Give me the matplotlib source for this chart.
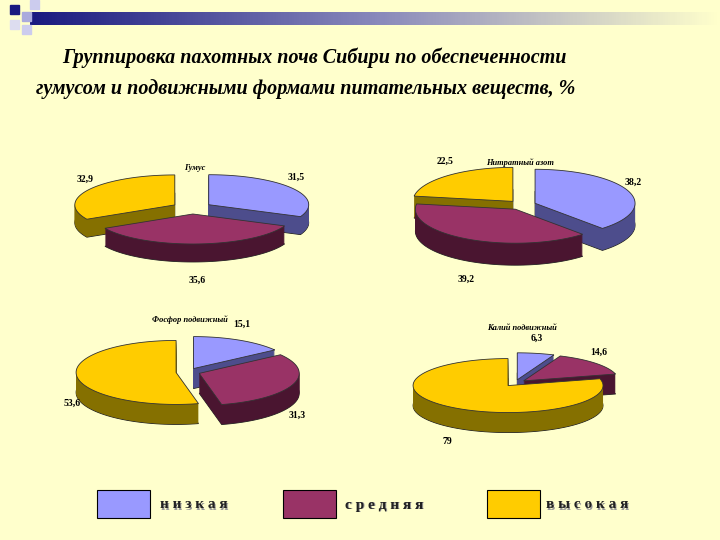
import numpy as np
import matplotlib
matplotlib.use("Agg")
import matplotlib.pyplot as plt
from matplotlib.patches import Polygon, Rectangle
from matplotlib.colors import LinearSegmentedColormap

titles = ["Гумус", "Нитратный азот", "Фосфор подвижный", "Калий подвижный"]
humus = [31.5, 35.6, 32.9]
nitrate = [38.2, 39.2, 22.5]
phosphorus = [15.1, 31.3, 53.6]
potassium = [6.3, 14.6, 79.0]
value_labels = [["31,5", "35,6", "32,9"], ["38,2", "39,2", "22,5"],
                 ["15,1", "31,3", "53,6"], ["6,3", "14,6", "79"]]
categories = ["н и з к а я", "с р е д н я я", "в ы с о к а я"]

top_colors = ["#9999FF", "#993366", "#FFCC00"]
side_colors = ["#4D4D8C", "#4A1530", "#857000"]

fig = plt.figure(figsize=(7.2, 5.4), dpi=100)
fig.patch.set_facecolor("#FFFFCC")
ax = fig.add_axes([0, 0, 1, 1])
ax.set_xlim(0, 720); ax.set_ylim(540, 0); ax.axis("off")
ax.set_facecolor("#FFFFCC")

grad = np.linspace(0, 1, 300)[None, :]
cm = LinearSegmentedColormap.from_list("g", ["#1A1A80", "#8888BB", "#FFFFCC"])
ax.imshow(grad, extent=(30, 720, 25, 12), cmap=cm, aspect="auto", zorder=1)
for (x, y, c) in [(10, 5, "#1A1A80"), (22, 12, "#AAAADD"), (30, 0, "#CCCCEE"), (22, 25, "#CCCCEE"), (10, 20, "#DDDDF0")]:
    ax.add_patch(Rectangle((x, y), 9, 9, color=c, zorder=2))
ax.text(62, 58, "Группировка пахотных почв Сибири по обеспеченности", ha="left", va="center",
        fontsize=14.5, fontstyle="italic", fontweight="bold", family="Liberation Serif")
ax.text(36, 89, "гумусом и подвижными формами питательных веществ, %", ha="left", va="center",
        fontsize=14.5, fontstyle="italic", fontweight="bold", family="Liberation Serif")


def pie3d(cx, cy, rx, ry, depth, values, labels, title, tpos, explode):
    vals = np.array(values, float)
    fr = vals / vals.sum()
    starts = 90 - 360 * np.concatenate([[0], np.cumsum(fr)[:-1]])
    wedges = []
    for i, f in enumerate(fr):
        a0 = starts[i]; a1 = a0 - 360 * f
        m = np.radians((a0 + a1) / 2)
        ox = explode * rx * np.cos(m); oy = -explode * ry * np.sin(m)
        t = np.radians(np.linspace(a0, a1, 80))
        xs = np.concatenate([[cx + ox], cx + ox + rx * np.cos(t)])
        ys = np.concatenate([[cy + oy], cy + oy - ry * np.sin(t)])
        wedges.append((-np.sin(m), i, xs, ys, m, ox, oy))
    wedges.sort(key=lambda w: w[0])
    for _, i, xs, ys, m, ox, oy in wedges:
        pts = np.column_stack([xs, ys])
        ax.add_patch(Polygon(pts + [0, depth], closed=True, fc=side_colors[i], ec="#222222", lw=0.6, zorder=3))
        for d in np.arange(depth - 0.5, 0, -0.5):
            ax.add_patch(Polygon(pts + [0, d], closed=True, fc=side_colors[i], ec="none", zorder=3))
        ax.add_patch(Polygon(pts, closed=True, fc=top_colors[i], ec="#333333", lw=0.6, zorder=3))
    for _, i, xs, ys, m, ox, oy in wedges:
        s = np.sin(m)
        lx = cx + ox + 1.05 * rx * np.cos(m)
        ly = cy + oy - 1.4 * ry * s + (depth + 6 if s < 0 else -4)
        ax.text(lx, ly, labels[i], ha="center", va="center", fontsize=7, fontweight="bold",
                family="Liberation Serif", zorder=5)
    ax.text(tpos[0], tpos[1], title, ha="center", va="center", fontsize=6, fontstyle="italic",
            fontweight="bold", family="Liberation Serif", zorder=5)


pie3d(192, 208, 100, 30, 18, humus, value_labels[0], titles[0], (195, 168), 0.2)
pie3d(522, 205, 100, 34, 22, nitrate, value_labels[1], titles[1], (520, 163), 0.14)
pie3d(188, 372, 100, 32, 20, phosphorus, value_labels[2], titles[2], (190, 320), 0.12)
pie3d(515, 383, 95, 27, 20, potassium, value_labels[3], titles[3], (522, 328), 0.12)

for (bx, tx, c, lab) in [(97, 160, top_colors[0], categories[0]), (283, 345, top_colors[1], categories[1]),
                         (487, 546, top_colors[2], categories[2])]:
    ax.add_patch(Rectangle((bx, 490), 53, 28, fc=c, ec="black", lw=0.8, zorder=3))
    ax.text(tx + 1, 506, lab, ha="left", va="center", fontsize=11, fontweight="bold",
            family="Liberation Serif", color="#999999", zorder=4)
    ax.text(tx, 505, lab, ha="left", va="center", fontsize=11, fontweight="bold",
            family="Liberation Serif", color="#222222", zorder=5)

fig.savefig("out.png", dpi=100, facecolor=fig.get_facecolor())
